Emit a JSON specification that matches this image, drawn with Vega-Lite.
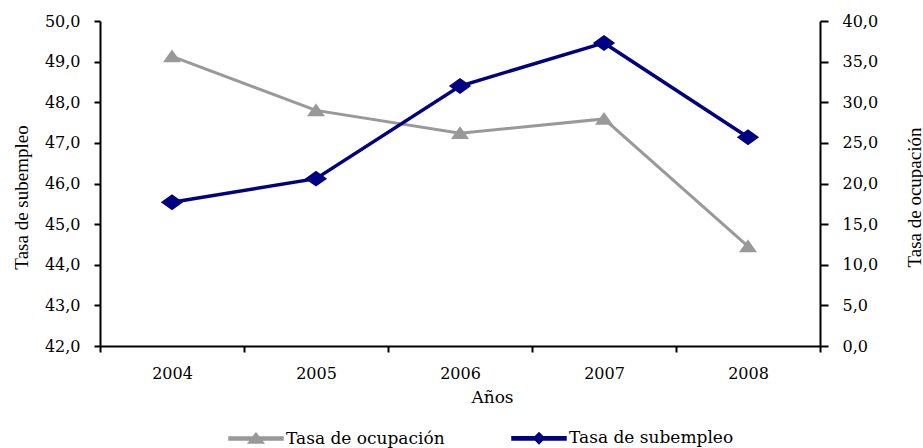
{
  "$schema": "https://vega.github.io/schema/vega-lite/v6.json",
  "width": 720,
  "height": 325,
  "autosize": {"type": "none"},
  "padding": {"left": 100, "top": 21, "right": 103, "bottom": 102},
  "background": "white",
  "config": {
    "view": {"stroke": null},
    "axis": {
      "grid": false,
      "domainColor": "black",
      "domainWidth": 2,
      "tickColor": "black",
      "tickWidth": 2,
      "labelColor": "black",
      "titleColor": "black",
      "titleFontWeight": "normal",
      "labelFont": "DejaVu Serif",
      "labelFontSize": 16
    },
    "legend": {
      "orient": "none",
      "legendX": 128,
      "legendY": 389,
      "direction": "horizontal",
      "symbolSize": 2916,
      "labelFont": "DejaVu Serif",
      "labelFontSize": 17,
      "labelColor": "black",
      "labelOffset": 2,
      "labelLimit": 400,
      "columnPadding": 64,
      "padding": 0
    }
  },
  "data": {
    "values": [
      {"anio": "2004", "ocupacion": 49.13, "subempleo": 17.7},
      {"anio": "2005", "ocupacion": 47.8, "subempleo": 20.6},
      {"anio": "2006", "ocupacion": 47.24, "subempleo": 32.0},
      {"anio": "2007", "ocupacion": 47.59, "subempleo": 37.3},
      {"anio": "2008", "ocupacion": 44.45, "subempleo": 25.7}
    ]
  },
  "encoding": {
    "x": {
      "field": "anio",
      "type": "ordinal",
      "scale": {"paddingInner": 0, "paddingOuter": 0},
      "axis": {
        "title": "Años",
        "titleFont": "DejaVu Serif",
        "titleFontSize": 17,
        "titleX": 392,
        "titleY": 56,
        "titleAlign": "center",
        "titleBaseline": "alphabetic",
        "labelAngle": 0,
        "labelBaseline": "alphabetic",
        "labelPadding": 26,
        "tickBand": "extent",
        "tickSize": 6
      }
    }
  },
  "layer": [
    {
      "encoding": {
        "y": {
          "field": "ocupacion",
          "type": "quantitative",
          "scale": {"domain": [42, 50], "nice": false, "zero": false},
          "axis": {
            "orient": "left",
            "title": "Tasa de subempleo",
            "titleFont": "Liberation Serif",
            "titleFontSize": 19,
            "titleAngle": 270,
            "titleX": -73,
            "titleY": 176,
            "titleAlign": "center",
            "titleBaseline": "alphabetic",
            "values": [42, 43, 44, 45, 46, 47, 48, 49, 50],
            "labelExpr": "replace(format(datum.value, '.1f'), '.', ',')",
            "labelPadding": 14,
            "tickSize": 6
          }
        }
      },
      "layer": [
        {
          "mark": {"type": "line", "strokeWidth": 3},
          "encoding": {
            "color": {
              "datum": "m_ocup",
              "type": "nominal",
              "title": null,
              "scale": {
                "domain": ["Tasa de ocupación", "Tasa de subempleo", "m_ocup", "m_sub"],
                "range": ["#999999", "#000080", "#999999", "#000080"]
              }
            }
          }
        },
        {
          "mark": {"type": "point", "filled": true, "size": 450, "opacity": 1},
          "encoding": {
            "color": {"datum": "m_ocup", "type": "nominal", "title": null},
            "shape": {
              "datum": "m_ocup",
              "type": "nominal",
              "title": null,
              "legend": {"values": ["Tasa de ocupación", "Tasa de subempleo"]},
              "scale": {
                "domain": ["Tasa de ocupación", "Tasa de subempleo", "m_ocup", "m_sub"],
                "range": [
                  "M-1,-0.06H1V0.06H-1Z M0,-0.2L0.28,0.17L-0.28,0.17Z",
                  "M-1,-0.06H1V0.06H-1Z M0,-0.2L0.2,0L0,0.2L-0.2,0Z",
                  "M0,-0.65L0.85,0.55L-0.85,0.55Z",
                  "M0,-0.75L1.05,0L0,0.75L-1.05,0Z"
                ]
              }
            }
          }
        }
      ]
    },
    {
      "encoding": {
        "y": {
          "field": "subempleo",
          "type": "quantitative",
          "scale": {"domain": [0, 40], "nice": false},
          "axis": {
            "orient": "right",
            "title": "Tasa de ocupación",
            "titleFont": "Liberation Serif",
            "titleFontSize": 19,
            "titleAngle": 270,
            "titleX": 100,
            "titleY": 176,
            "titleAlign": "center",
            "titleBaseline": "alphabetic",
            "values": [0, 5, 10, 15, 20, 25, 30, 35, 40],
            "labelExpr": "replace(format(datum.value, '.1f'), '.', ',')",
            "labelPadding": 14,
            "tickSize": 8,
            "encode": {"ticks": {"update": {"x": {"value": -8}}}}
          }
        }
      },
      "layer": [
        {
          "mark": {"type": "line", "strokeWidth": 3.5},
          "encoding": {
            "color": {"datum": "m_sub", "type": "nominal", "title": null}
          }
        },
        {
          "mark": {"type": "point", "filled": true, "size": 450, "opacity": 1},
          "encoding": {
            "color": {"datum": "m_sub", "type": "nominal", "title": null},
            "shape": {"datum": "m_sub", "type": "nominal", "title": null}
          }
        }
      ]
    }
  ],
  "resolve": {"scale": {"y": "independent"}}
}
